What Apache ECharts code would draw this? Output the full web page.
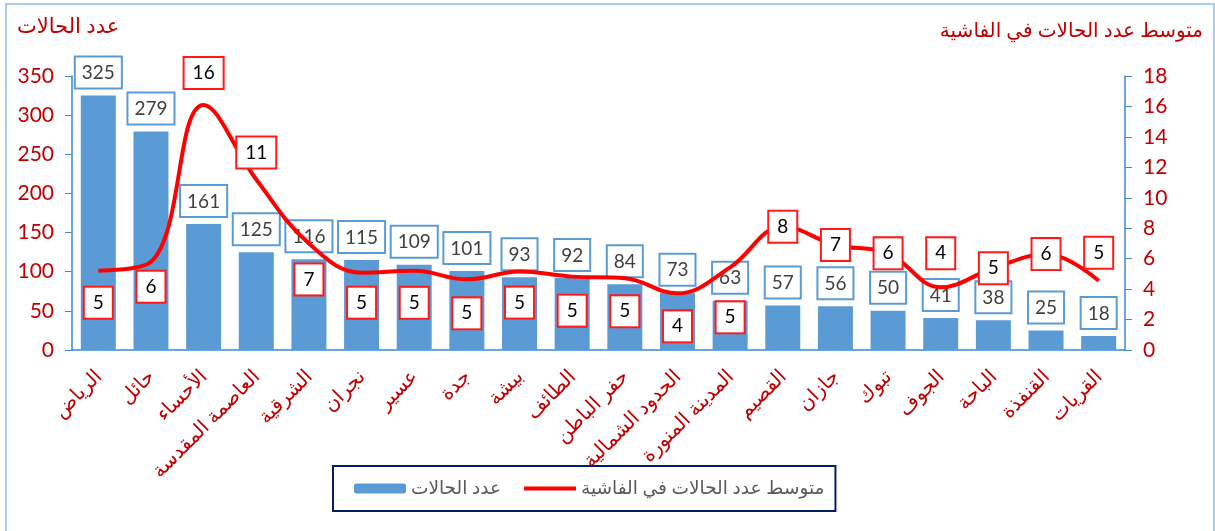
<!DOCTYPE html>
<html>
<head>
<meta charset="utf-8">
<script src="https://cdn.jsdelivr.net/npm/echarts@6/dist/echarts.min.js"></script>
<style>
  body { margin: 0; background: #fff; }
  .frame {
    position: absolute;
    left: 5px;
    top: 3px;
    width: 1206px;
    height: 560px;
    border: 2px solid #a9cbec;
  }
  .chart {
    position: absolute;
    left: 0;
    top: 0;
    width: 1215px;
    height: 531px;
  }
</style>
</head>
<body>
<div class="frame"></div>
<div class="chart" id="chart"></div>
<script>
const regions = ["الرياض", "حائل", "الأحساء", "العاصمة المقدسة", "الشرقية", "نجران", "عسير", "جدة", "بيشة", "الطائف",
  "حفر الباطن", "الحدود الشمالية", "المدينة المنورة", "القصيم", "جازان", "تبوك", "الجوف", "الباحة", "القنفذة", "القريات"];
const caseCounts = [325, 279, 161, 125, 116, 115, 109, 101, 93, 92, 84, 73, 63, 57, 56, 50, 41, 38, 25, 18];
const avgPerOutbreak = [5.21, 5.8, 16.1, 11.2, 7.0, 5.08, 5.2, 4.64, 5.15, 4.82, 4.71, 3.72, 5.43, 8.1, 6.9, 6.35, 4.12, 5.37, 6.3, 4.55];
// vertical nudge of each red label box, in px
const avgLabelShift = [32, 25, -32, -27, 36, 30, 32, 34, 31, 34, 33, 33, 50, 0, 0, 0, -34, 0, 0, -28];

const barName = "عدد الحالات";
const lineName = "متوسط عدد الحالات في الفاشية";
const fontFamily = "Lato, 'DejaVu Sans', sans-serif";
const axisBlue = "#3a8ad4";
const labelRed = "#c00000";

let chart = echarts.init(document.getElementById("chart"));

const lineData = avgPerOutbreak.map((v, i) => ({
  value: v,
  label: { offset: [0, avgLabelShift[i]] }
}));

const option = {
  animation: false,
  textStyle: { fontFamily: fontFamily },
  title: [
    {
      text: barName,
      left: 12,
      top: 11,
      textStyle: { color: labelRed, fontSize: 21, fontWeight: "normal", fontFamily: fontFamily }
    },
    {
      text: lineName,
      right: 7,
      top: 16,
      textStyle: { color: labelRed, fontSize: 20, fontWeight: "normal", fontFamily: fontFamily }
    }
  ],
  legend: {
    left: 333,
    top: 466,
    padding: [13, 11, 13, 21],
    borderColor: "#002060",
    borderWidth: 2,
    itemWidth: 52,
    itemHeight: 10,
    itemGap: 23,
    textStyle: { color: "#595959", fontSize: 18.5, fontFamily: fontFamily },
    data: [
      { name: barName },
      { name: lineName, icon: "path://M0,0H52V4H0Z" }
    ]
  },
  grid: {
    left: 72,
    right: 90,
    top: 76,
    bottom: 181
  },
  xAxis: {
    type: "category",
    data: regions,
    axisLine: { lineStyle: { color: axisBlue, width: 1.5 } },
    axisTick: { length: 7, lineStyle: { color: axisBlue } },
    axisLabel: {
      rotate: 45,
      interval: 0,
      margin: 23,
      color: labelRed,
      fontSize: 20,
      fontFamily: fontFamily
    }
  },
  yAxis: [
    {
      type: "value",
      min: 0,
      max: 350,
      interval: 50,
      splitLine: { show: false },
      axisLine: { show: true, lineStyle: { color: axisBlue, width: 1.5 } },
      axisTick: { show: true, length: 7, lineStyle: { color: axisBlue } },
      axisLabel: { color: labelRed, fontSize: 21, margin: 18, fontFamily: fontFamily }
    },
    {
      type: "value",
      min: 0,
      max: 18,
      interval: 2,
      splitLine: { show: false },
      axisLine: { show: true, lineStyle: { color: axisBlue, width: 1.5 } },
      axisTick: { show: true, length: 7, lineStyle: { color: axisBlue } },
      axisLabel: { color: labelRed, fontSize: 21, margin: 18, fontFamily: fontFamily }
    }
  ],
  series: [
    {
      name: barName,
      type: "bar",
      data: caseCounts,
      barWidth: 35,
      itemStyle: { color: "#5b9bd5" },
      label: {
        show: true,
        position: "top",
        distance: 8,
        color: "#404040",
        fontSize: 19,
        fontFamily: fontFamily,
        backgroundColor: "#fff",
        borderColor: "#5b9bd5",
        borderWidth: 2,
        padding: [6, 6, 5, 6]
      }
    },
    {
      name: lineName,
      type: "line",
      yAxisIndex: 1,
      data: lineData,
      smooth: 0.4,
      symbol: "circle",
      symbolSize: 1,
      itemStyle: { color: "#ff0000" },
      lineStyle: { color: "#ff0000", width: 4 },
      label: {
        show: true,
        position: "inside",
        color: "#000",
        fontSize: 19,
        fontFamily: fontFamily,
        backgroundColor: "#fff",
        borderColor: "#ff1a1a",
        borderWidth: 2,
        padding: [6, 8, 5, 8],
        formatter: p => Math.round(p.value)
      },
      z: 3
    }
  ]
};

chart.setOption(option);
</script>
</body>
</html>
